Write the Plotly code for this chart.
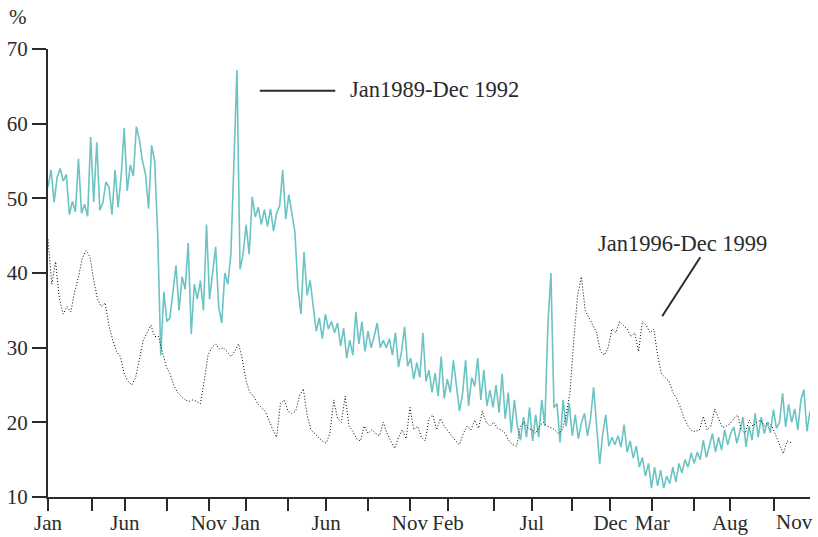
import plotly.graph_objects as go

# Trading-day index runs 0..1000 over the four-year window
tick_days = [0, 58, 101, 156, 211, 260, 315, 365, 420, 475, 525, 585, 635, 688, 738, 793, 848, 895, 953]
tick_text = ["Jan", "", "Jun", "", "Nov", "Jan", "", "Jun", "", "Nov", "Feb", "", "Jul", "", "Dec", "Mar", "", "Aug", ""]
last_label_day = 979
last_label_text = "Nov"

# Jan1989-Dec 1992, sampled every 4 trading days (%)
early_step = 4
early_vals = [
    51.5, 53.8, 49.5, 52.8, 54.0, 52.3, 53.2, 47.8, 49.6, 48.2,
    55.3, 48.0, 49.2, 47.6, 58.2, 49.5, 57.5, 48.4, 49.4, 52.2,
    51.5, 47.8, 53.8, 48.8, 53.0, 59.4, 51.0, 54.5, 53.0, 59.6,
    57.8, 55.0, 53.2, 48.6, 57.1, 55.0, 45.0, 29.0, 37.5, 33.5,
    34.0, 37.5, 41.0, 35.0, 39.5, 37.8, 44.0, 31.8, 38.5, 36.5,
    39.0, 35.0, 46.5, 36.5, 40.0, 43.5, 35.5, 33.3, 40.0, 38.5,
    42.5, 56.0, 67.2, 40.5, 42.5, 46.5, 42.5, 50.2, 47.5, 48.8,
    46.5, 48.5, 46.2, 48.6, 45.6, 48.0, 49.0, 53.8, 47.2, 50.5,
    48.2, 45.5, 38.0, 34.5, 42.8, 37.0, 39.0, 35.5, 32.2, 34.0,
    31.2, 34.5, 32.5, 33.5, 32.0, 33.3, 30.2, 32.6, 28.6, 31.0,
    29.0, 34.8, 30.5, 33.5, 29.5, 32.2, 30.0, 31.5, 33.3, 30.0,
    31.0, 30.0, 31.2, 29.0, 32.0, 27.4, 29.5, 32.8, 27.5, 28.6,
    25.8, 28.0, 26.0, 32.0, 25.5, 27.0, 24.0, 26.6, 23.5, 28.8,
    23.2, 25.8, 24.0, 28.3, 24.5, 21.5, 23.8, 28.3, 22.2, 26.0,
    24.8, 28.6, 23.0, 27.0, 22.2, 24.3, 22.0, 25.0, 21.3, 26.5,
    20.5, 24.0, 18.6, 23.0, 19.5, 17.6, 20.7, 18.0, 22.0, 17.5,
    21.0, 18.0, 23.0, 19.5, 33.0, 40.0, 22.0, 22.5, 17.3, 23.0,
    19.5, 22.5, 18.2, 21.0, 17.8, 19.9, 21.2, 18.2, 20.5, 24.7,
    19.5, 14.4, 18.5, 21.0, 16.8, 18.0, 17.0, 18.2, 16.7, 19.7,
    16.0, 17.5, 15.2, 16.8, 14.0, 15.3, 12.8, 14.5, 11.2, 14.0,
    11.5, 13.6, 11.2, 12.8, 11.8, 14.0, 12.0, 14.5, 13.2, 15.0,
    14.0, 15.9, 14.5, 16.0, 15.0, 17.6, 15.3, 17.0, 18.5, 16.0,
    18.0, 16.3, 19.0, 17.0, 18.5, 19.4, 17.2, 18.8, 20.7, 16.7,
    19.5, 17.6, 21.2, 18.0, 20.7, 18.5, 20.0, 18.6, 21.7, 19.2,
    20.0, 23.9, 19.4, 22.4, 20.0, 21.8, 19.0, 23.0, 24.4, 18.8, 21.5,
]

# Jan1996-Dec 1999, sampled every 5 trading days (%)
late_step = 5
late_vals = [
    44.5, 38.5, 41.5, 36.5, 34.5, 35.5, 34.8, 37.5, 39.5, 42.0,
    43.0, 42.2, 39.0, 36.5, 35.5, 36.0, 33.0, 31.0, 29.5, 28.8,
    26.5, 25.5, 25.0, 26.0, 28.5, 31.0, 32.0, 33.0, 31.5, 31.5,
    29.5, 27.5, 26.5, 25.0, 24.0, 23.5, 23.0, 22.8, 23.0, 22.8,
    22.5, 25.5, 29.0, 30.0, 30.5, 29.8, 30.0, 29.5, 28.8, 29.5,
    30.5, 28.5, 25.5, 24.0, 23.5, 22.5, 22.0, 21.5, 20.3, 19.0,
    18.0, 22.5, 23.0, 21.5, 21.2, 21.5, 23.5, 24.5, 21.0, 19.0,
    18.5, 18.0, 17.5, 17.2, 18.5, 23.0, 20.5, 20.0, 23.5, 19.5,
    18.8, 17.8, 17.5, 19.5, 18.5, 19.0, 18.5, 18.2, 20.0, 18.5,
    17.5, 16.5, 18.0, 19.0, 17.8, 22.0, 19.0, 19.5, 18.0, 17.5,
    20.5, 21.0, 19.0, 20.5, 19.5, 18.8, 18.2, 17.5, 17.0, 18.5,
    19.5, 19.0, 20.3, 19.2, 21.5, 20.0, 19.5, 20.0, 19.2, 19.0,
    18.5, 17.5, 17.0, 16.8, 19.5, 20.0, 19.2, 19.0, 18.5, 19.5,
    20.0, 19.5, 19.3, 19.0, 18.5, 19.0, 21.0, 24.0, 31.0, 37.0,
    39.5, 35.0, 34.0, 33.0, 32.0, 29.5, 29.0, 30.0, 32.5, 32.0,
    33.5, 33.0, 32.5, 31.5, 32.0, 29.5, 33.5, 33.0, 32.0, 32.5,
    29.0, 26.5, 26.0, 25.5, 24.0, 23.2, 22.0, 20.5, 19.5, 18.8,
    18.8, 19.0, 20.8, 19.0, 19.5, 21.8, 20.5, 19.3, 19.5, 19.8,
    20.5, 21.0, 19.0, 18.5, 20.3, 19.5, 20.0, 20.3, 19.5, 20.0,
    19.5, 18.3, 17.2, 15.8, 17.5, 17.3,
]

early_days = [i * early_step for i in range(len(early_vals))]
late_days = [i * late_step for i in range(len(late_vals))]

TEAL = "#6cc3c3"
INK = "#2b2b2b"
FONT = "Liberation Serif"
TICK_SIZE = 21
NOTE_SIZE = 22.5

fig = go.Figure()
fig.add_trace(go.Scatter(
    x=early_days, y=early_vals, mode="lines",
    line=dict(color=TEAL, width=1.6),
    name="Jan1989-Dec 1992", hoverinfo="skip",
))
fig.add_trace(go.Scatter(
    x=late_days, y=late_vals, mode="lines",
    line=dict(color="#000000", width=1, dash="1px,2px"),
    name="Jan1996-Dec 1999", hoverinfo="skip",
))

# Leader lines for the two series labels
fig.add_shape(type="line", xref="x", yref="y", x0=278, y0=64.4, x1=377, y1=64.4,
              line=dict(color=INK, width=2))
fig.add_shape(type="line", xref="x", yref="y", x0=806, y0=34.2, x1=856, y1=42.1,
              line=dict(color=INK, width=2))

fig.add_annotation(x=394, y=64.6, xref="x", yref="y", text="Jan1989-Dec 1992",
                   showarrow=False, xanchor="left", yanchor="middle",
                   font=dict(family=FONT, size=NOTE_SIZE, color=INK))
fig.add_annotation(x=833, y=44.0, xref="x", yref="y", text="Jan1996-Dec 1999",
                   showarrow=False, xanchor="center", yanchor="middle",
                   font=dict(family=FONT, size=NOTE_SIZE, color=INK))
fig.add_annotation(x=-0.039, y=1.071, xref="paper", yref="paper", text="%",
                   showarrow=False, xanchor="center", yanchor="middle",
                   font=dict(family=FONT, size=TICK_SIZE, color=INK))
fig.add_annotation(x=last_label_day, y=0, xref="x", yref="paper", text=last_label_text,
                   showarrow=False, xanchor="center", yanchor="top", yshift=-11,
                   font=dict(family=FONT, size=TICK_SIZE, color=INK))

fig.update_layout(
    width=818, height=537,
    margin=dict(l=48, r=8, t=49, b=40),
    paper_bgcolor="white", plot_bgcolor="white",
    showlegend=False,
    font=dict(family=FONT, size=TICK_SIZE, color=INK),
    xaxis=dict(
        range=[0, 1000], tickmode="array", tickvals=tick_days, ticktext=tick_text,
        showgrid=False, zeroline=False, showline=True, linecolor=INK, linewidth=2,
        ticks="outside", ticklen=12, tickwidth=2, tickcolor=INK,
        ticklabelstandoff=-6, automargin=False,
        tickfont=dict(family=FONT, size=TICK_SIZE, color=INK),
    ),
    yaxis=dict(
        range=[10, 70], tickmode="array", tickvals=[10, 20, 30, 40, 50, 60, 70],
        showgrid=False, zeroline=False, showline=True, linecolor=INK, linewidth=2,
        ticks="outside", ticklen=14, tickwidth=2, tickcolor=INK,
        automargin=False,
        tickfont=dict(family=FONT, size=TICK_SIZE, color=INK),
    ),
)

fig.write_html("out.html")
